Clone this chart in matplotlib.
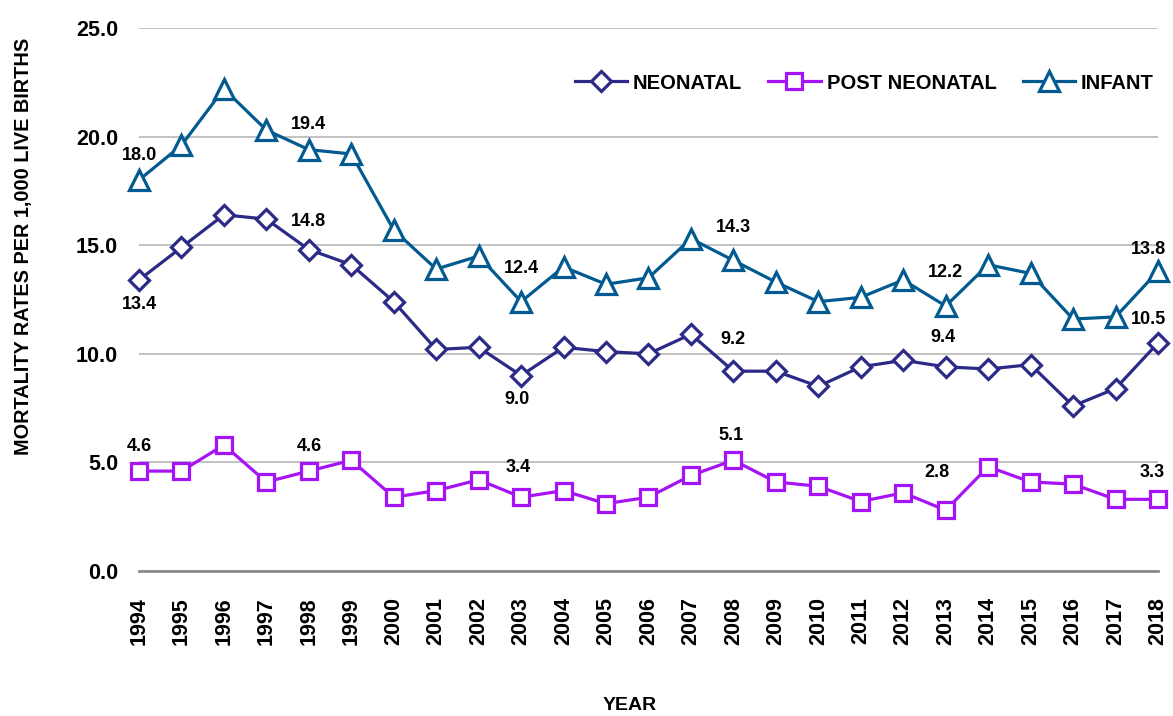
import numpy as np
import matplotlib.pyplot as plt

plt.rcParams['font.family'] = ['Liberation Sans', 'DejaVu Sans']
plt.rcParams['font.weight'] = 'bold'

years = list(range(1994, 2019))
neonatal = [13.4, 14.9, 16.4, 16.2, 14.8, 14.1, 12.4, 10.2, 10.3, 9.0, 10.3, 10.1, 10.0,
            10.9, 9.2, 9.2, 8.5, 9.4, 9.7, 9.4, 9.3, 9.5, 7.6, 8.4, 10.5]
post_neonatal = [4.6, 4.6, 5.8, 4.1, 4.6, 5.1, 3.4, 3.7, 4.2, 3.4, 3.7, 3.1, 3.4,
                 4.4, 5.1, 4.1, 3.9, 3.2, 3.6, 2.8, 4.8, 4.1, 4.0, 3.3, 3.3]
infant = [18.0, 19.6, 22.2, 20.3, 19.4, 19.2, 15.7, 13.9, 14.5, 12.4, 14.0, 13.2, 13.5,
          15.3, 14.3, 13.3, 12.4, 12.6, 13.4, 12.2, 14.1, 13.7, 11.6, 11.7, 13.8]

label_years = [1994, 1998, 2003, 2008, 2013, 2018]

c_neo = '#2B2A86'
c_post = '#A614F5'
c_inf = '#015A90'

fig = plt.figure(figsize=(11.73, 7.16), dpi=100)
ax = fig.add_axes([0.1185, 0.2025, 0.8687, 0.7584])

ax.plot(years, neonatal, color=c_neo, lw=2.3, marker='D', ms=10, mfc='white',
        mec=c_neo, mew=2.3, label='NEONATAL', clip_on=False, zorder=3)
ax.plot(years, post_neonatal, color=c_post, lw=2.3, marker='s', ms=12, mfc='white',
        mec=c_post, mew=2.3, label='POST NEONATAL', clip_on=False, zorder=3)
ax.plot(years, infant, color=c_inf, lw=2.3, marker='^', ms=14, mfc='white',
        mec=c_inf, mew=2.3, label='INFANT', clip_on=False, zorder=3)

# data labels (offsets in points)
offs_inf = {1994: (0, 18), 1998: (0, 18), 2003: (0, 24), 2008: (0, 24), 2013: (0, 24), 2018: (-7, 16)}
offs_neo = {1994: (0, -18), 1998: (0, 20), 2003: (-3, -17), 2008: (0, 23), 2013: (-2, 21), 2018: (-7, 17)}
offs_post = {1994: (0, 18), 1998: (0, 18), 2003: (-2, 21), 2008: (-2, 18), 2013: (-6, 27), 2018: (-4, 19)}
for series, offs in [(infant, offs_inf), (neonatal, offs_neo), (post_neonatal, offs_post)]:
    for yr in label_years:
        v = series[years.index(yr)]
        ax.annotate(f'{v:.1f}', (yr, v), xytext=offs[yr], textcoords='offset points',
                    ha='center', va='center', fontsize=13, fontweight='bold', color='black')

ax.set_xlim(1994, 2018)
ax.set_ylim(0, 25)
ax.set_xticks(years)
ax.set_xticklabels([str(y) for y in years], rotation=90, fontsize=15.5, fontweight='bold')
ax.set_yticks(np.arange(0, 25.1, 5))
ax.set_yticklabels([f'{v:.1f}' for v in np.arange(0, 25.1, 5)], fontsize=15.5, fontweight='bold')
ax.tick_params(axis='both', length=0)
ax.tick_params(axis='x', pad=19)
ax.tick_params(axis='y', pad=15)

ax.grid(axis='y', color='#BDBDBD', lw=1.3)
ax.set_axisbelow(True)
for s in ['top', 'right', 'left']:
    ax.spines[s].set_visible(False)
ax.spines['bottom'].set_color('#8C8C8C')
ax.spines['bottom'].set_linewidth(2)

ax.set_ylabel('MORTALITY RATES PER 1,000 LIVE BIRTHS', fontsize=14.3, fontweight='bold')
ax.set_xlabel('YEAR', fontsize=14, fontweight='bold')
ax.yaxis.set_label_coords(-0.104, 0.597)
ax.xaxis.set_label_coords(0.482, -0.232)

ax.legend(loc='center right', bbox_to_anchor=(0.996, 0.8987), ncol=3, frameon=False,
          prop={'size': 14.5, 'weight': 'bold'}, handlelength=2.6, columnspacing=1.3,
          handletextpad=0.3, borderpad=0, borderaxespad=0)

fig.savefig('out.png', dpi=100)
